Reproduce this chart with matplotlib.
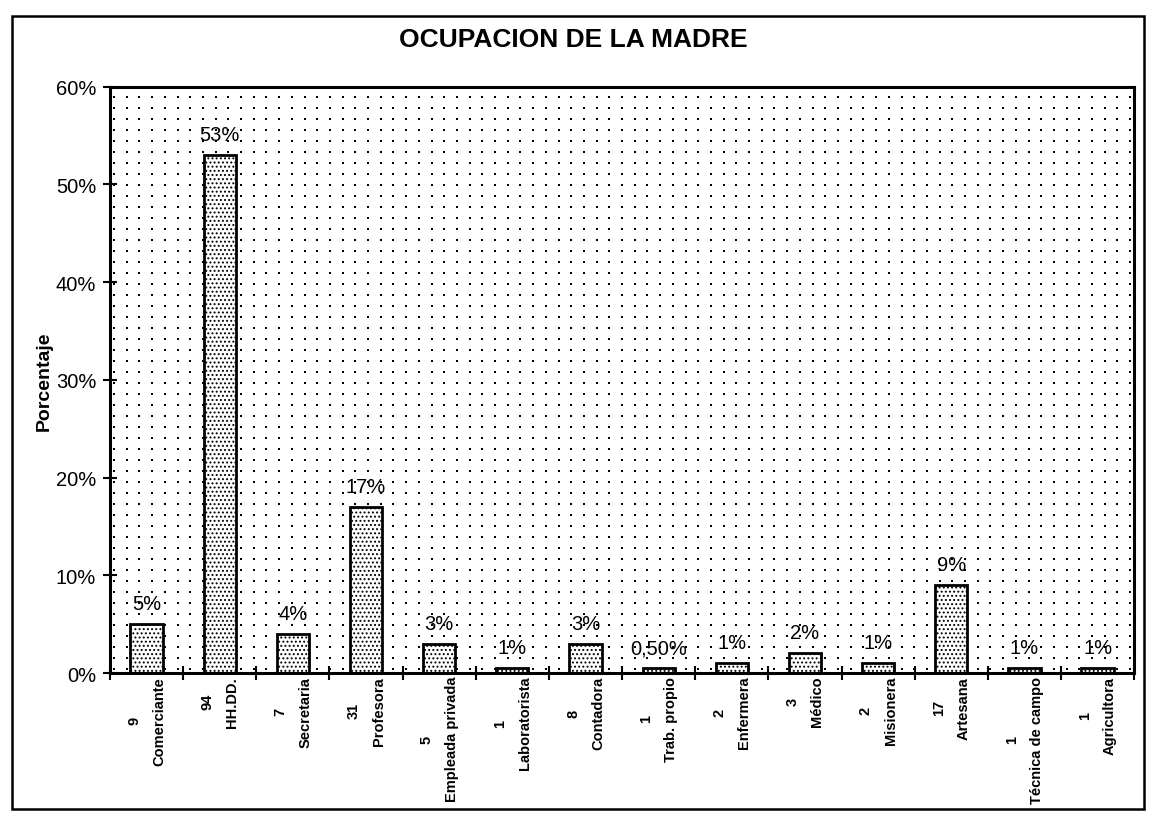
import numpy as np
import matplotlib
matplotlib.use("Agg")
from matplotlib import pyplot as plt
from matplotlib.patches import Rectangle
from matplotlib.transforms import ScaledTranslation

plt.rcParams['font.family'] = ['Liberation Sans', 'DejaVu Sans']
plt.rcParams['hatch.linewidth'] = 0.9

# data
ocupaciones = ['Comerciante', 'HH.DD.', 'Secretaria', 'Profesora', 'Empleada privada',
               'Laboratorista', 'Contadora', 'Trab. propio', 'Enfermera', 'Médico',
               'Misionera', 'Artesana', 'Técnica de campo', 'Agricultora']
frecuencias = [9, 94, 7, 31, 5, 1, 8, 1, 2, 3, 2, 17, 1, 1]
porcentajes = [5, 53, 4, 17, 3, 0.5, 3, 0.5, 1, 2, 1, 9, 0.5, 0.5]
etiquetas = ['5%', '53%', '4%', '17%', '3%', '1%', '3%', '0,50%', '1%', '2%', '1%', '9%', '1%', '1%']

fig = plt.figure(figsize=(11.52, 8.2), dpi=100)
ax = fig.add_axes([0.0955, 0.178, 0.889, 0.715])

# outer chart frame
fig.patches.append(Rectangle((0.0104, 0.012), 0.983, 0.967, transform=fig.transFigure,
                             fill=False, edgecolor='black', linewidth=1.8))

# dotted plot-area background
gx = np.arange(4, 1024, 12.7) / 1024.0
gy = np.arange(4, 586, 11.0) / 586.0
GX, GY = np.meshgrid(gx, gy)
ax.scatter(GX.ravel(), GY.ravel(), s=2.2, c='black', marker='s', linewidths=0,
           transform=ax.transAxes, zorder=0)

x = np.arange(len(ocupaciones))
bars = ax.bar(x, porcentajes, width=0.44, color='white', edgecolor='black',
              linewidth=2.0, hatch='....', zorder=2)

for xi, h, lab in zip(x, porcentajes, etiquetas):
    ax.annotate(lab, (xi, h), xytext=(0, 8), textcoords='offset points',
                ha='center', va='bottom', fontsize=14.5)

ax.set_xlim(-0.5, len(ocupaciones) - 0.5)
ax.set_ylim(0, 60)
ax.set_yticks(np.arange(0, 61, 10))
ax.set_yticklabels(['%d%%' % v for v in range(0, 61, 10)], fontsize=14.5)
ax.tick_params(axis='y', direction='inout', length=10, width=1.5, pad=5)

ax.set_xticks(x)
ax.set_xticklabels(['%d\n%s' % (f, o) for f, o in zip(frecuencias, ocupaciones)],
                   rotation=90, fontsize=10.5, fontweight='bold', va='top', ha='center',
                   multialignment='center', linespacing=2.0)
shift = ScaledTranslation(-5 / 100.0, 0, fig.dpi_scale_trans)
for t in ax.get_xticklabels():
    t.set_transform(t.get_transform() + shift)
ax.tick_params(axis='x', which='major', length=0, pad=2)
ax.set_xticks(np.arange(-0.5, len(ocupaciones)), minor=True)
ax.tick_params(axis='x', which='minor', direction='inout', length=10, width=1.5)

for sp in ax.spines.values():
    sp.set_linewidth(2.2)

ax.set_ylabel('Porcentaje', fontsize=14, fontweight='bold', labelpad=2)
fig.text(0.498, 0.951, 'OCUPACION DE LA MADRE', ha='center', va='center',
         fontsize=19, fontweight='bold')

fig.savefig('out.png', dpi=100)
